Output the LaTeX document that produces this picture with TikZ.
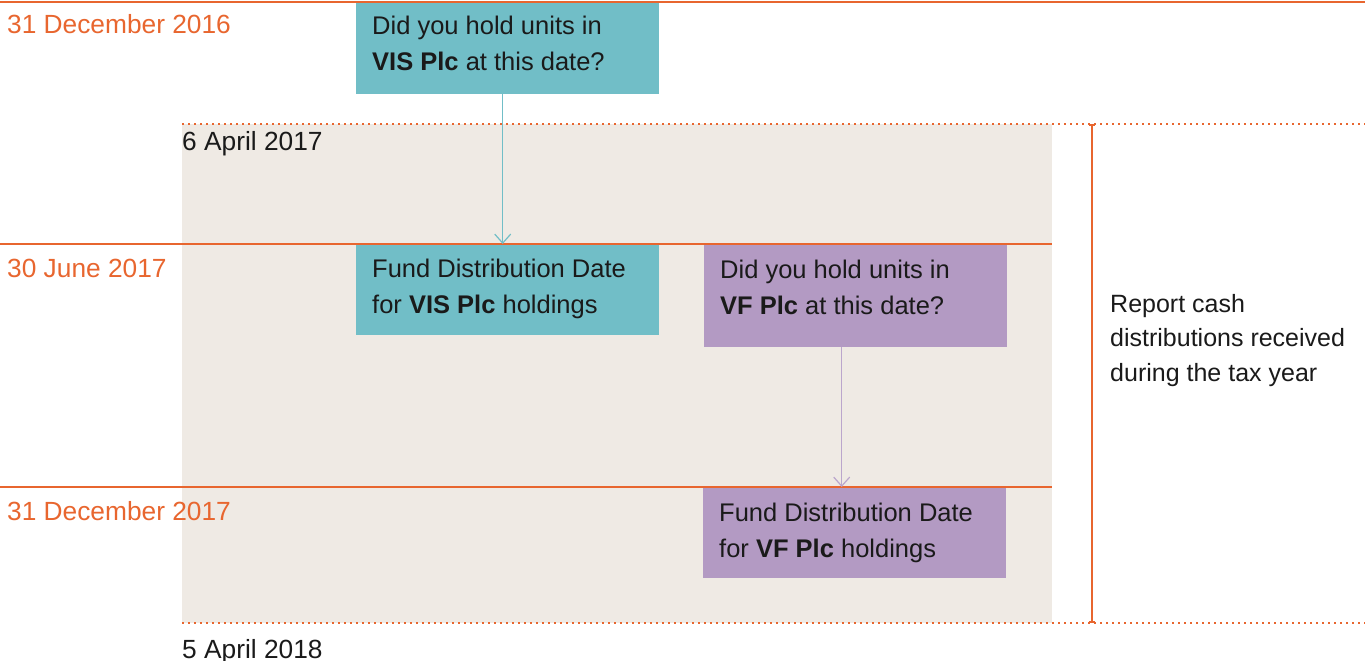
\documentclass[tikz,border=0pt]{standalone}
\usepackage{fontspec}
\setmainfont{Liberation Sans}
\usetikzlibrary{arrows.meta}
\definecolor{dateorange}{HTML}{E8662F}
\definecolor{visteal}{HTML}{71BEC7}
\definecolor{vfpurple}{HTML}{B39AC3}
\definecolor{vfarrow}{HTML}{BBA6CC}
\definecolor{taxbeige}{HTML}{EFEAE4}
\definecolor{inktext}{HTML}{1A1A1A}
\tikzset{
  datelbl/.style={anchor=base west, inner sep=0pt, text=dateorange,
    font=\fontsize{26.3}{35}\selectfont},
  yearlbl/.style={datelbl, text=inktext},
  boxtxt/.style={anchor=north west, inner sep=0pt, align=left, text=inktext,
    font=\fontsize{25.5}{35.5}\selectfont},
  visbox/.style={anchor=north west, fill=visteal, minimum width=303pt,
    minimum height=91pt, inner sep=0pt},
  vfbox/.style={visbox, fill=vfpurple},
  timerule/.style={draw=dateorange, line width=2.2pt},
  taxrule/.style={draw=dateorange, line width=2pt, dash pattern=on 2pt off 4pt},
  flow/.style={line width=1.2pt, -{Straight Barb[length=9pt,width=16pt]}}
}
\begin{document}
\begin{tikzpicture}[x=1pt,y=-1pt]
  \useasboundingbox (0,0) rectangle (1365,661);
  \fill[taxbeige] (182,124) rectangle (1052,623);
  \draw
    (356,3) node[visbox] (visq){}
    (356,244) node[visbox] (visfdd){}
    (704,244) node[vfbox,minimum height=103pt] (vfq){}
    (703,487) node[vfbox] (vffdd){};
  % timeline
  \draw[timerule] (0,2) -- (1365,2);
  \draw[timerule] (0,244) -- (1052,244);
  \draw[timerule] (0,487) -- (1052,487);
  \draw[taxrule] (182,124) -- (1365,124);
  \draw[taxrule] (182,623) -- (1365,623);
  \coordinate (taxtop) at (1092,124);
  \coordinate (taxend) at (1092,623);
  \draw[draw=dateorange, line width=2pt, {Bar[width=6pt]}-{Bar[width=6pt]}] (taxtop) -- (taxend);
  \draw
    (7,34) node[datelbl] (dec16){31 December 2016}
    (7,277) node[datelbl] (jun17){30 June 2017}
    (7,520) node[datelbl] (dec17){31 December 2017}
    (182,150) node[yearlbl] (apr17){6 April 2017}
    (182,658) node[yearlbl] (apr18){5 April 2018};
  \draw
    (372,16) node[boxtxt] (visqtxt){Did you hold units in\\\textbf{VIS Plc} at this date?}
    (372,259) node[boxtxt] (visfddtxt){Fund Distribution Date\\for \textbf{VIS Plc} holdings}
    (720,260) node[boxtxt] (vfqtxt){Did you hold units in\\\textbf{VF Plc} at this date?}
    (719,503) node[boxtxt] (vffddtxt){Fund Distribution Date\\for \textbf{VF Plc} holdings}
    (1110,294) node[boxtxt, font=\fontsize{25}{34.5}\selectfont] (report){Report cash\\distributions received\\during the tax year};
  \begin{scope}[flow]
    \draw[visteal] ([xshift=-5pt]visq.south) -- ([xshift=-5pt]visfdd.north);
    \draw[vfarrow] ([xshift=-14pt]vfq.south) -- ([xshift=-14pt]vfq.south |- vffdd.north);
  \end{scope}
\end{tikzpicture}
\end{document}
